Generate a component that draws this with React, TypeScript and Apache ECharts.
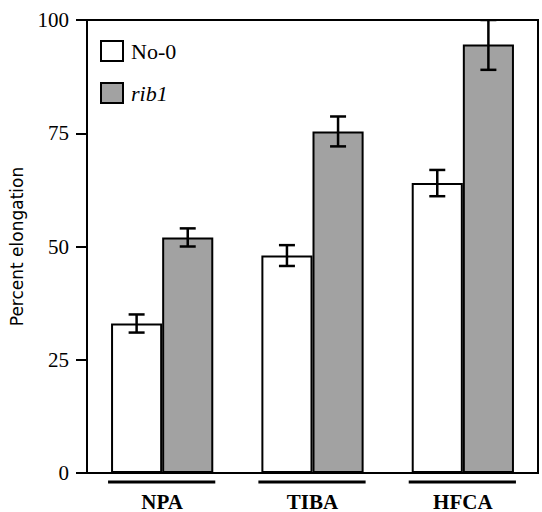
import React, { useEffect, useRef } from "react";
import * as echarts from "echarts";

const categories = ["NPA", "TIBA", "HFCA"];
const no0Values = [33, 48, 64];
const no0Errors = [2, 2.3, 2.9];
const rib1Values = [52, 75.4, 94.6];
const rib1Errors = [2, 3.3, 5.6];
const yTicks = [0, 25, 50, 75, 100];

const GAP = 0.32;
const GRAY = "#a2a2a2";

export default function App() {
  const ref = useRef<HTMLDivElement>(null);
  useEffect(() => {
    if (!ref.current) return;
    const chart = echarts.init(ref.current, null, { renderer: "svg" });
    const errData: number[][] = [];
    categories.forEach((_, i) => {
      errData.push([i, no0Values[i], no0Errors[i], 0]);
      errData.push([i, rib1Values[i], rib1Errors[i], 1]);
    });
    const serif = "Liberation Serif";
    chart.setOption({
      animation: false,
      grid: {
        left: 86,
        right: 4,
        top: 20,
        bottom: 37,
        show: true,
        borderColor: "#000",
        borderWidth: 2,
      },
      legend: {
        orient: "vertical",
        left: 95,
        top: 35,
        itemWidth: 22,
        itemHeight: 20,
        itemGap: 20,
        icon: "rect",
        textStyle: { fontFamily: serif, fontSize: 22, color: "#000", padding: [0, 0, 0, 3] },
        data: [
          { name: "No-0", itemStyle: { color: "#fff", borderColor: "#000", borderWidth: 2 } },
          {
            name: "rib1",
            itemStyle: { color: GRAY, borderColor: "#000", borderWidth: 2 },
            textStyle: { fontStyle: "italic" },
          },
        ],
      },
      xAxis: {
        type: "category",
        data: categories,
        axisLine: { show: true, lineStyle: { color: "#000", width: 2 } },
        axisTick: { show: false },
        axisLabel: {
          margin: 18,
          fontFamily: serif,
          fontSize: 21,
          fontWeight: "bold",
          color: "#000",
        },
      },
      yAxis: {
        type: "value",
        min: yTicks[0],
        max: yTicks[yTicks.length - 1],
        interval: 25,
        name: "Percent elongation",
        nameLocation: "middle",
        nameGap: 62,
        nameTextStyle: { fontFamily: "DejaVu Sans", fontSize: 17, color: "#000" },
        splitLine: { show: false },
        axisLine: { show: true, lineStyle: { color: "#000", width: 2 } },
        axisTick: { show: true, length: 11, lineStyle: { color: "#000", width: 2 } },
        axisLabel: { margin: 18, fontFamily: serif, fontSize: 21, color: "#000" },
      },
      series: [
        {
          name: "No-0",
          type: "bar",
          data: no0Values,
          barGap: "0%",
          barCategoryGap: GAP * 100 + "%",
          itemStyle: { color: "#fff", borderColor: "#000", borderWidth: 2 },
        },
        {
          name: "rib1",
          type: "bar",
          data: rib1Values,
          barGap: "0%",
          barCategoryGap: GAP * 100 + "%",
          itemStyle: { color: GRAY, borderColor: "#000", borderWidth: 2 },
        },
        {
          type: "custom",
          name: "errors",
          data: errData,
          clip: true,
          z: 5,
          encode: { x: 0, y: 1 },
          renderItem: (params: any, api: any) => {
            const idx = api.value(0);
            const v = api.value(1);
            const e = api.value(2);
            const s = api.value(3);
            const band = api.size([1, 0])[0];
            const bw = (band * (1 - GAP)) / 2;
            const c = api.coord([idx, v]);
            const x = c[0] + (s === 0 ? -bw / 2 : bw / 2);
            const top = api.coord([idx, Math.min(100, v + e)])[1];
            const bot = api.coord([idx, v - e])[1];
            const cap = 8;
            const style = { stroke: "#000", lineWidth: 2.5 };
            return {
              type: "group",
              children: [
                { type: "line", shape: { x1: x, y1: top, x2: x, y2: bot }, style },
                { type: "line", shape: { x1: x - cap, y1: top, x2: x + cap, y2: top }, style },
                { type: "line", shape: { x1: x - cap, y1: bot, x2: x + cap, y2: bot }, style },
              ],
            };
          },
        },
        {
          type: "custom",
          name: "underline",
          data: categories.map((_, i) => [i, 0]),
          clip: false,
          encode: { x: 0, y: 1 },
          renderItem: (params: any, api: any) => {
            const idx = api.value(0);
            const band = api.size([1, 0])[0];
            const bw = (band * (1 - GAP)) / 2;
            const c = api.coord([idx, 0]);
            const y = c[1] + 9;
            return {
              type: "line",
              shape: { x1: c[0] - bw - 3, y1: y, x2: c[0] + bw + 2, y2: y },
              style: { stroke: "#000", lineWidth: 3 },
            };
          },
        },
      ],
    });
    return () => chart.dispose();
  }, []);
  return (
    <div
      ref={ref}
      style={{ position: "absolute", left: 0, top: 0, width: 542, height: 512 }}
    />
  );
}
